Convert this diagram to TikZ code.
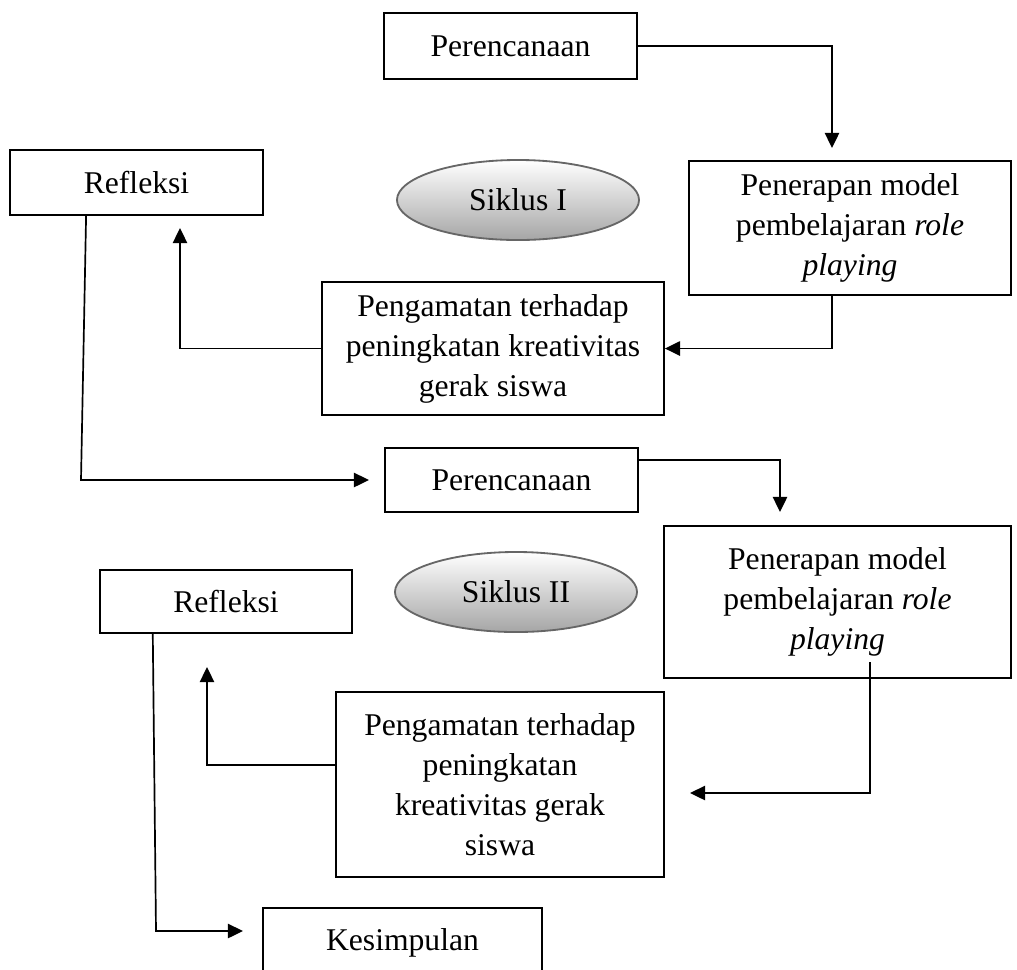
\documentclass[tikz,border=0pt]{standalone}
\usepackage{fontspec}
\setmainfont{Liberation Serif}
\usetikzlibrary{arrows.meta,shapes.geometric}

\begin{document}
\begin{tikzpicture}[x=0.025cm,y=-0.025cm,
    every node/.style={font=\fontsize{22.5pt}{28.45pt}\selectfont},
    box/.style 2 args={draw,line width=1.2pt,align=center,inner sep=0pt,minimum width=#1,minimum height=#2},
    siklus/.style={ellipse,draw=black!60,line width=1.3pt,top color=white,bottom color=black!35,
        minimum width=6.05cm,minimum height=2cm,inner sep=0pt},
    arr/.style={line width=1.2pt,-{Triangle[length=0.38cm,width=0.36cm]}}]
    \useasboundingbox (0,0) rectangle (1017,969);
    \clip (0,0) rectangle (1017,969);

    \node[box={6.33cm}{1.65cm}] (rencanaA) at (510.5,46) {Perencanaan};
    \node[box={6.33cm}{1.63cm}] (refleksiA) at (136.5,182.5) {Refleksi};
    \node[siklus] (siklusA) at (518,200) {Siklus I};
    \node[box={8.05cm}{3.35cm}] (terapA) at (850,228) {Penerapan model\\pembelajaran \textit{role}\\\textit{playing}};
    \node[box={8.55cm}{3.33cm}] (amatA) at (493,348.5) {Pengamatan terhadap\\peningkatan kreativitas\\gerak siswa};

    \node[box={6.33cm}{1.6cm}] (rencanaB) at (511.5,480) {Perencanaan};
    \node[box={6.3cm}{1.58cm}] (refleksiB) at (226,601.5) {Refleksi};
    \node[siklus] (siklusB) at (516,592) {Siklus II};
    \node[box={8.68cm}{3.8cm}] (terapB) at (837.5,602) {Penerapan model\\pembelajaran \textit{role}\\\textit{playing}};
    \node[box={8.2cm}{4.63cm}] (amatB) at (500,784.5) {Pengamatan terhadap\\peningkatan\\kreativitas gerak\\siswa};
    \node[box={6.98cm}{1.75cm}] (simpul) at (402.5,943) {Kesimpulan};

    \coordinate (tipA) at (832,148);
    \coordinate (tipB) at (180,228);
    \coordinate (belokA) at (81,480);
    \coordinate (tipC) at (369,480);
    \coordinate (tipD) at (780,512);
    \coordinate (mulaiE) at (870,662);
    \coordinate (tipE) at (690,793);
    \coordinate (tipF) at (207,667);
    \coordinate (belokB) at (156,931);
    \coordinate (tipG) at (243,931);

    \draw[arr] (rencanaA.east) -| (tipA);
    \draw[arr] (terapA.south -| tipA) |- (amatA.east);
    \draw[arr] (amatA.west) -| (tipB);
    \draw[arr] ([xshift=-1.26cm]refleksiA.south) -- (belokA) -- (tipC);

    \draw[arr] ([yshift=0.5cm]rencanaB.east) -| (tipD);
    \draw[arr] (mulaiE) |- (tipE);
    \draw[arr] ([yshift=0.49cm]amatB.west) -| (tipF);
    \draw[arr] ([xshift=-1.83cm]refleksiB.south) -- (belokB) -- (tipG);
\end{tikzpicture}
\end{document}
